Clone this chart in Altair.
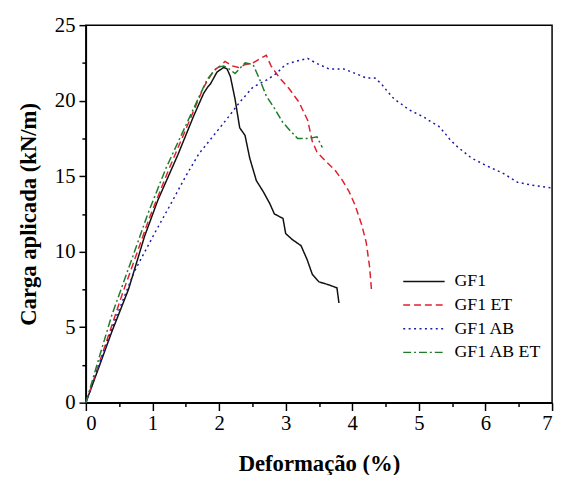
import altair as alt
import pandas as pd

series_names = ["GF1", "GF1 ET", "GF1 AB", "GF1 AB ET"]
series_colors = ["#111111", "#e0202e", "#1a1aa8", "#1f7a2a"]
series_dashes = [[1, 0], [7, 4], [2, 3.5], [8, 3, 2, 3]]

gf1_x = [0, 0.2, 0.39, 0.64, 0.88, 1.08, 1.38, 1.62, 1.77, 1.83, 1.87, 1.97, 2.07, 2.12, 2.17, 2.24, 2.31, 2.39, 2.46, 2.56, 2.66, 2.76, 2.83, 2.96, 3.0, 3.10, 3.23, 3.32, 3.40, 3.50, 3.65, 3.77, 3.80]
gf1_y = [0, 2.4, 4.7, 7.5, 11.0, 13.4, 16.4, 19.0, 20.5, 20.9, 21.1, 21.9, 22.2, 22.1, 21.6, 20.1, 18.2, 17.7, 16.2, 14.7, 14.0, 13.2, 12.5, 12.2, 11.2, 10.8, 10.4, 9.5, 8.5, 8.0, 7.8, 7.6, 6.6]

gf1et_x = [0, 0.2, 0.54, 0.96, 1.25, 1.52, 1.77, 1.92, 2.02, 2.09, 2.2, 2.29, 2.4, 2.51, 2.62, 2.71, 2.78, 2.91, 3.05, 3.20, 3.33, 3.40, 3.47, 3.60, 3.74, 3.84, 3.95, 4.04, 4.14, 4.21, 4.26, 4.29]
gf1et_y = [0, 2.6, 7.1, 12.3, 15.5, 18.3, 20.9, 22.0, 22.3, 22.6, 22.3, 22.2, 22.4, 22.5, 22.8, 23.0, 22.3, 21.5, 20.8, 19.9, 18.7, 17.3, 16.6, 16.0, 15.4, 14.8, 14.0, 13.1, 11.8, 10.6, 9.0, 7.4]

gf1ab_x = [0, 0.2, 0.44, 0.73, 1.03, 1.28, 1.5, 1.7, 1.92, 2.12, 2.31, 2.51, 2.73, 2.86, 3.0, 3.15, 3.33, 3.45, 3.65, 3.87, 3.99, 4.21, 4.34, 4.44, 4.53, 4.63, 4.73, 4.85, 5.08, 5.18, 5.30, 5.40, 5.47, 5.59, 5.79, 6.01, 6.26, 6.48, 6.70, 6.95, 7.0]
gf1ab_y = [0, 2.5, 5.5, 8.7, 11.2, 13.2, 15.0, 16.5, 17.7, 18.8, 19.9, 20.9, 21.4, 21.8, 22.4, 22.6, 22.8, 22.5, 22.1, 22.1, 21.9, 21.5, 21.5, 21.1, 20.6, 20.1, 19.8, 19.4, 18.9, 18.6, 18.3, 17.8, 17.4, 16.9, 16.2, 15.7, 15.2, 14.6, 14.4, 14.25, 14.2]

gf1abet_x = [0, 0.2, 0.39, 0.69, 0.93, 1.2, 1.62, 1.82, 1.97, 2.07, 2.15, 2.24, 2.39, 2.51, 2.61, 2.71, 2.83, 2.95, 3.08, 3.18, 3.35, 3.47, 3.55]
gf1abet_y = [0, 3.0, 5.8, 9.5, 12.5, 15.5, 19.5, 21.4, 22.2, 22.3, 22.1, 21.8, 22.5, 22.4, 21.4, 20.3, 19.5, 18.6, 17.95, 17.5, 17.5, 17.6, 16.9]

x_ticks = [i * 0.5 for i in range(15)]
y_ticks = [i * 2.5 for i in range(11)]

rows = []
for name, xs, ys in zip(series_names,
                        [gf1_x, gf1et_x, gf1ab_x, gf1abet_x],
                        [gf1_y, gf1et_y, gf1ab_y, gf1abet_y]):
    for i, (x, y) in enumerate(zip(xs, ys)):
        rows.append({"serie": name, "x": x, "y": y, "i": i})
df = pd.DataFrame(rows)

FONT = "Liberation Serif"

axis_common = dict(
    grid=False,
    domainColor="black",
    domainWidth=1.5,
    tickColor="black",
    tickWidth=1.5,
    labelFont=FONT,
    labelFontSize=21,
    labelColor="black",
    titleFont=FONT,
    titleFontSize=23,
    titleFontWeight="bold",
    titleColor="black",
)

x_axis = alt.Axis(
    values=x_ticks,
    labelExpr="datum.value % 1 === 0 ? format(datum.value, 'd') : ''",
    tickSize={"condition": {"test": "datum.value % 1 === 0", "value": 8}, "value": 4},
    labelPadding=2,
    titlePadding=20,
    title="Deformação (%)",
    **axis_common,
)
y_axis = alt.Axis(
    values=y_ticks,
    labelExpr="datum.value % 5 === 0 ? format(datum.value, 'd') : ''",
    tickSize={"condition": {"test": "datum.value % 5 === 0", "value": 7}, "value": 4},
    labelPadding=4,
    titlePadding=14,
    title="Carga aplicada (kN/m)",
    **axis_common,
)

legend = alt.Legend(
    title=None,
    orient="none",
    legendX=352,
    legendY=251,
    symbolType="M-13,0H1",
    symbolSize=36,
    symbolStrokeWidth=1.5,
    labelFont=FONT,
    labelFontSize=18,
    labelColor="black",
    labelOffset=4,
    rowPadding=6,
)

chart = (
    alt.Chart(df)
    .mark_line(strokeWidth=1.5)
    .encode(
        x=alt.X("x:Q", scale=alt.Scale(domain=[0, 7], nice=False), axis=x_axis),
        y=alt.Y("y:Q", scale=alt.Scale(domain=[0, 25], nice=False), axis=y_axis),
        color=alt.Color("serie:N", scale=alt.Scale(domain=series_names, range=series_colors), legend=legend),
        strokeDash=alt.StrokeDash("serie:N", scale=alt.Scale(domain=series_names, range=series_dashes), legend=legend),
        order="i:Q",
    )
    .properties(
        width=473,
        height=383,
        autosize=alt.AutoSizeParams(type="none"),
        padding={"left": 79, "top": 14, "right": 5, "bottom": 70},
    )
    .configure(font=FONT)
    .configure_axis(labelFont=FONT, titleFont=FONT)
    .configure_view(stroke="black", strokeWidth=1.5)
)

chart.save("out.html", embed_options={"renderer": "svg", "actions": False})
